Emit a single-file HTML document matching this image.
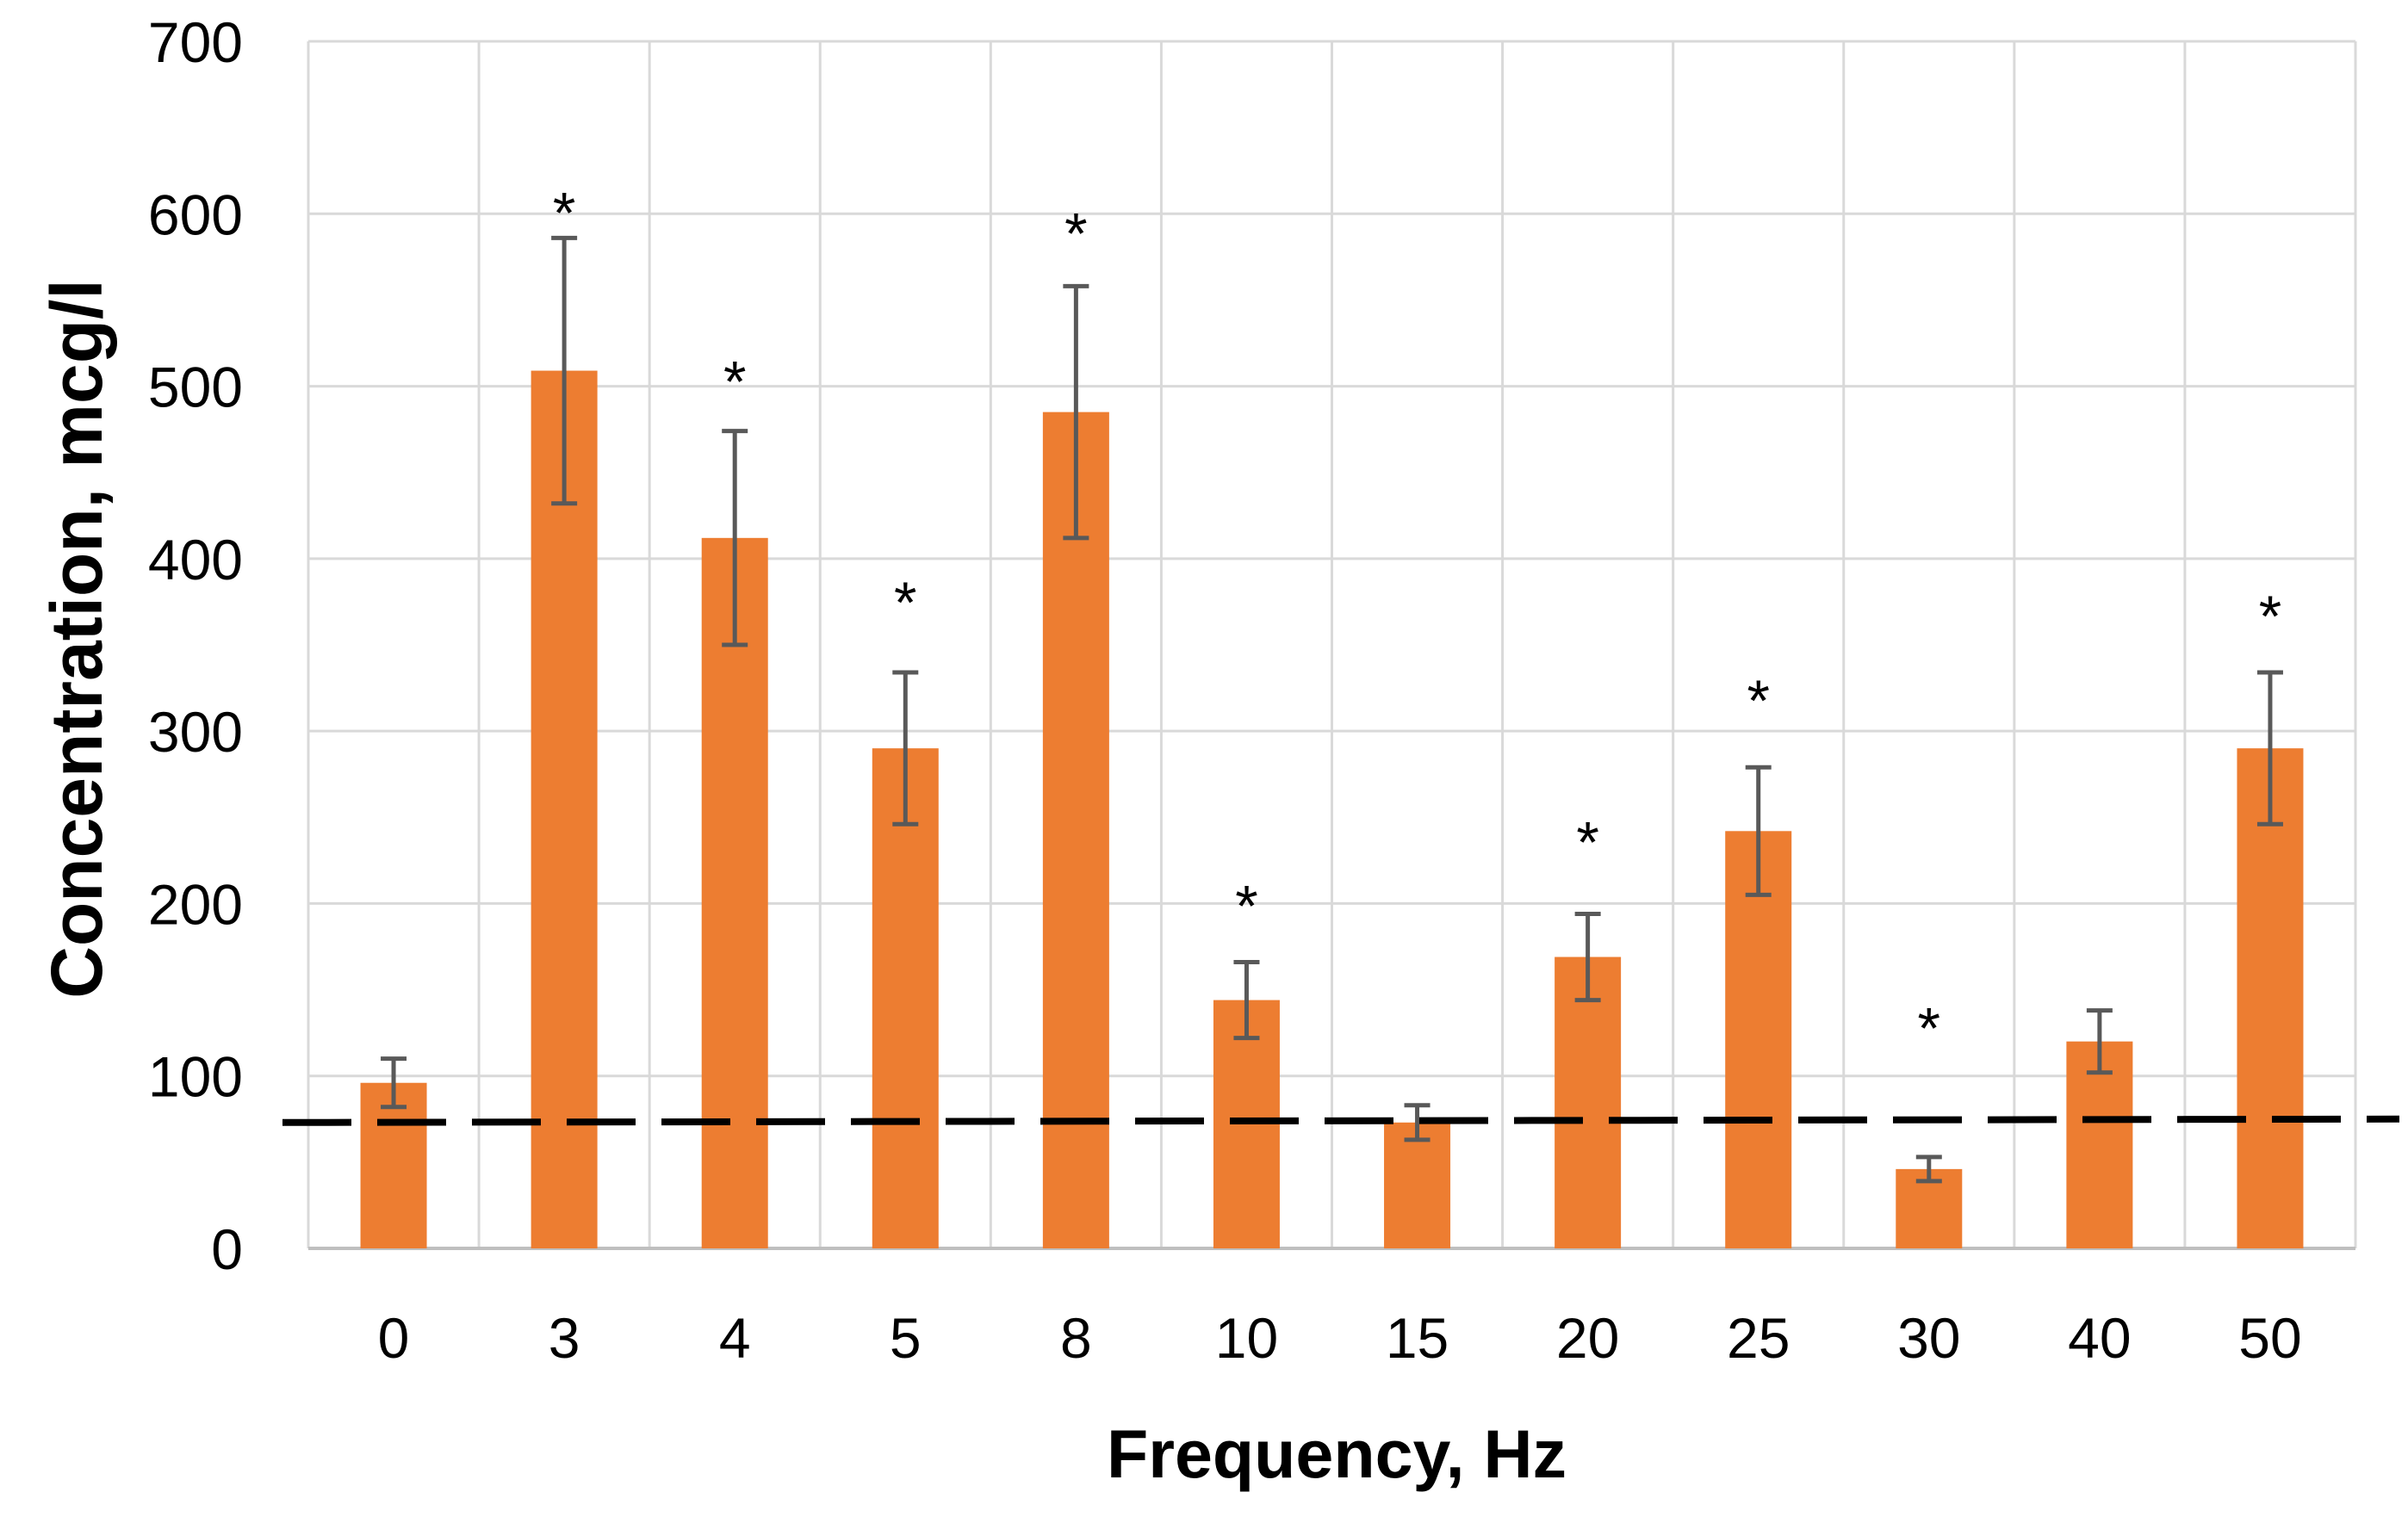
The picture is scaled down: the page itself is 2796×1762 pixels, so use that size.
<!DOCTYPE html>
<html><head><meta charset="utf-8"><style>
html,body{margin:0;padding:0;background:#fff;}
svg{display:block;}
text{font-family:"Liberation Sans",sans-serif;fill:#000;}
</style></head><body>
<svg id="chart" width="2796" height="1762" viewBox="0 0 2796 1762" xmlns="http://www.w3.org/2000/svg">
<g id="grid"></g>
<g id="bars"></g>
<g id="errs"></g>
<g id="refline"></g>
<g id="stars"></g>
<g id="yticks"></g>
<g id="xticks"></g>
<text x="1552" y="1716" text-anchor="middle" font-size="79" font-weight="bold">Frequency, Hz</text>
<text transform="translate(118,742) rotate(-90)" text-anchor="middle" font-size="84" font-weight="bold">Concentration, mcg/l</text>
</svg>
<script>
const categories = ["0","3","4","5","8","10","15","20","25","30","40","50"];
const values = [96, 509, 412, 290, 485, 144, 73, 169, 242, 46, 120, 290];
const errors = [14, 77, 62, 44, 73, 22, 10, 25, 37, 7, 18, 44];
const significant = [false,true,true,true,true,true,false,true,true,true,false,true];
const starValues = [0, 606, 508, 380, 594, 204, 0, 241, 323, 133, 0, 372];
const yTicks = [0,100,200,300,400,500,600,700];
const refStart = 73;
const refEnd = 75;

const NS="http://www.w3.org/2000/svg";
const L=358, R=2735, T=48, B=1450, YMAX=700;
const band=(R-L)/categories.length, barW=77;
const y=v=>B-(v/YMAX)*(B-T);
const xc=i=>L+band*(i+0.5);
function mk(tag,attrs,parent){const e=document.createElementNS(NS,tag);for(const k in attrs)e.setAttribute(k,attrs[k]);parent.appendChild(e);return e;}
const g=id=>document.getElementById(id);

yTicks.forEach((t,i)=>{
  if(t>0){const ln=mk('line',{x1:L,x2:R,y1:y(t),y2:y(t),stroke:'#d9d9d9','stroke-width':3},g('grid'));
  
  }
  const tx=mk('text',{x:282,y:y(t)+24,'text-anchor':'end','font-size':66},g('yticks'));
  tx.textContent=t;
  
  
});
for(let i=0;i<=categories.length;i++){
  const x=L+band*i;
  const ln=mk('line',{x1:x,x2:x,y1:T,y2:B,stroke:'#d9d9d9','stroke-width':3},g('grid'));
  
  
}
const ax=mk('line',{x1:L,x2:R,y1:B,y2:B,stroke:'#bfbfbf','stroke-width':4},g('grid'));



categories.forEach((c,i)=>{
  const cx=xc(i);
  const r=mk('rect',{x:cx-barW/2,y:y(values[i]),width:barW,height:B-y(values[i]),fill:'#ED7D31'},g('bars'));
  
  
  const hi=y(values[i]+errors[i]), lo=y(values[i]-errors[i]);
  const e=mk('path',{d:`M${cx},${hi}V${lo}M${cx-15},${hi}H${cx+15}M${cx-15},${lo}H${cx+15}`,stroke:'#595959','stroke-width':5,fill:'none'},g('errs'));
  
  
  const tx=mk('text',{x:cx,y:1577,'text-anchor':'middle','font-size':66},g('xticks'));
  tx.textContent=c;
  
  
  if(significant[i]){
    const s=mk('text',{x:cx,y:y(starValues[i])+34,'text-anchor':'middle','font-size':68},g('stars'));
    s.textContent='*';
    
    
  }
});
const rl=mk('line',{x1:328,x2:2786,y1:y(refStart),y2:y(refEnd),stroke:'#000','stroke-width':8,'stroke-dasharray':'80 30'},g('refline'));


</script>
</body></html>
